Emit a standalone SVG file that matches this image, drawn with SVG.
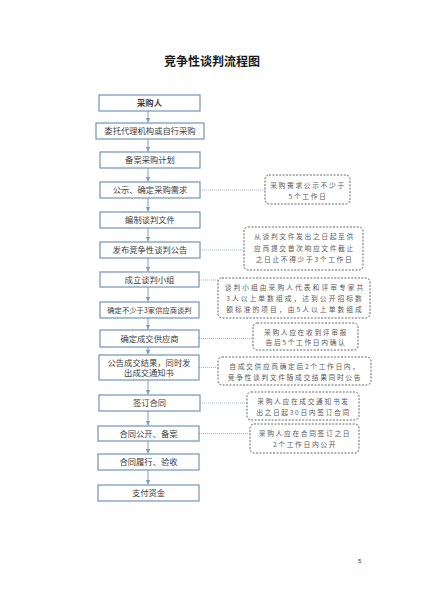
<svg xmlns="http://www.w3.org/2000/svg" width="424" height="600" viewBox="0 0 424 600">
<defs>
<style>
text{font-family:"Noto Sans CJK SC","Liberation Sans",sans-serif;}
.title{font-size:12px;font-weight:bold;fill:#1a1a1a;text-anchor:middle;}
.box rect{fill:#fff;stroke:#7393b6;stroke-width:1.2;}
.box text{font-size:8.3px;fill:#3c3c3c;text-anchor:middle;}
.note rect{fill:#fff;stroke:#555;stroke-width:0.9;stroke-dasharray:2 1.4;}
.note text{font-size:6.8px;fill:#5a5a5a;text-anchor:middle;letter-spacing:1.6px;}
.arrow{stroke:#7f9fc2;stroke-width:1;fill:none;marker-end:url(#ah);}
.dot{stroke:#8a9fb5;stroke-width:0.8;stroke-dasharray:1 1;fill:none;}
</style>
<marker id="ah" markerWidth="6" markerHeight="6" refX="5" refY="3" orient="auto" markerUnits="userSpaceOnUse">
<path d="M0,0.5 L5,3 L0,5.5 Z" fill="#7f9fc2"/>
</marker>
</defs>
<rect width="424" height="600" fill="#fff"/>
<text class="title" x="212" y="66">竞争性谈判流程图</text>

<g id="connectors">
<line class="arrow" x1="148" y1="111" x2="148" y2="122.5"/>
<line class="arrow" x1="148" y1="139" x2="148" y2="151.5"/>
<line class="arrow" x1="148" y1="168" x2="148" y2="181.5"/>
<line class="arrow" x1="148" y1="198" x2="148" y2="211.5"/>
<line class="arrow" x1="148" y1="228" x2="148" y2="241.5"/>
<line class="arrow" x1="148" y1="258" x2="148" y2="271.5"/>
<line class="arrow" x1="148" y1="287" x2="148" y2="301.5"/>
<line class="arrow" x1="148" y1="318" x2="148" y2="329.5"/>
<line class="arrow" x1="148" y1="347" x2="148" y2="354.5"/>
<line class="arrow" x1="148" y1="380" x2="148" y2="394.5"/>
<line class="arrow" x1="148" y1="411" x2="148" y2="425.5"/>
<line class="arrow" x1="148" y1="441" x2="148" y2="453.5"/>
<line class="arrow" x1="148" y1="470" x2="148" y2="484.5"/>
<line class="dot" x1="200" y1="190" x2="265" y2="190"/>
<line class="dot" x1="200" y1="250" x2="244" y2="250"/>
<line class="dot" x1="199" y1="280" x2="218" y2="280"/>
<line class="dot" x1="199" y1="338.5" x2="253" y2="338.5"/>
<line class="dot" x1="199" y1="367.5" x2="218" y2="367.5"/>
<line class="dot" x1="200" y1="403" x2="247" y2="403"/>
<line class="dot" x1="199" y1="433.5" x2="250" y2="433.5"/>
</g>

<g id="n1" class="box"><rect x="99" y="95" width="101" height="16"/><text x="149.5" y="106" font-weight="bold" fill="#222">采购人</text></g>
<g id="n2" class="box"><rect x="96" y="123" width="108" height="16"/><text x="150" y="134">委托代理机构或自行采购</text></g>
<g id="n3" class="box"><rect x="100" y="152" width="100" height="16"/><text x="150" y="163">备案采购计划</text></g>
<g id="n4" class="box"><rect x="100" y="182" width="100" height="16"/><text x="150" y="193">公示、确定采购需求</text></g>
<g id="n5" class="box"><rect x="100" y="212" width="100" height="16"/><text x="150" y="223">编制谈判文件</text></g>
<g id="n6" class="box"><rect x="100" y="242" width="100" height="16"/><text x="150" y="253">发布竞争性谈判公告</text></g>
<g id="n7" class="box"><rect x="100" y="272" width="99" height="15"/><text x="149.5" y="282.5">成立谈判小组</text></g>
<g id="n8" class="box"><rect x="100" y="302" width="99" height="16"/><text x="149.5" y="312.8" style="font-size:7.3px">确定不少于3家供应商谈判</text></g>
<g id="n9" class="box"><rect x="100" y="330" width="99" height="17"/><text x="149.5" y="341.5">确定成交供应商</text></g>
<g id="n10" class="box"><rect x="99" y="355" width="100" height="25"/><text x="149" y="365.5">公告成交结果，同时发</text><text x="149" y="376">出成交通知书</text></g>
<g id="n11" class="box"><rect x="99" y="395" width="101" height="16"/><text x="149.5" y="406">签订合同</text></g>
<g id="n12" class="box"><rect x="98" y="426" width="101" height="15"/><text x="148.5" y="436.5">合同公开、备案</text></g>
<g id="n13" class="box"><rect x="98" y="454" width="101" height="16"/><text x="148.5" y="465">合同履行、验收</text></g>
<g id="n14" class="box"><rect x="98" y="485" width="101" height="16"/><text x="148.5" y="496">支付资金</text></g>

<g id="note1" class="note"><rect x="265" y="175" width="85" height="29" rx="4"/><text x="308" y="188">采购需求公示不少于</text><text x="308" y="199">5个工作日</text></g>
<g id="note2" class="note"><rect x="244" y="227" width="119" height="43" rx="4"/><text x="304.5" y="239">从谈判文件发出之日起至供</text><text x="304.5" y="250.5">应商提交首次响应文件截止</text><text x="304.5" y="262">之日止不得少于3个工作日</text></g>
<g id="note3" class="note"><rect x="218" y="278" width="152" height="40" rx="4"/><text x="295" y="289.5" style="letter-spacing:2px">谈判小组由采购人代表和评审专家共</text><text x="295" y="300.5" style="letter-spacing:2px">3人以上单数组成，达到公开招标数</text><text x="295" y="311.5" style="letter-spacing:2px">额标准的项目，由5人以上单数组成</text></g>
<g id="note4" class="note"><rect x="253" y="323" width="105" height="27" rx="4"/><text x="306" y="334.5">采购人应在收到评审报</text><text x="306" y="345">告后5个工作日内确认</text></g>
<g id="note5" class="note"><rect x="218" y="357" width="153" height="28" rx="4"/><text x="295" y="368.5">自成交供应商确定后2个工作日内，</text><text x="295" y="379.5">竞争性谈判文件随成交结果同时公告</text></g>
<g id="note6" class="note"><rect x="247" y="392" width="112" height="28" rx="4"/><text x="303.5" y="403.5">采购人应在成交通知书发</text><text x="303.5" y="414.5">出之日起30日内签订合同</text></g>
<g id="note7" class="note"><rect x="250" y="424" width="109" height="29" rx="4"/><text x="305" y="436">采购人应在合同签订之日</text><text x="305" y="447">2个工作日内公开</text></g>

<text x="358" y="563" style="font-size:6px;fill:#333;font-family:'Liberation Sans',sans-serif">5</text>
</svg>
